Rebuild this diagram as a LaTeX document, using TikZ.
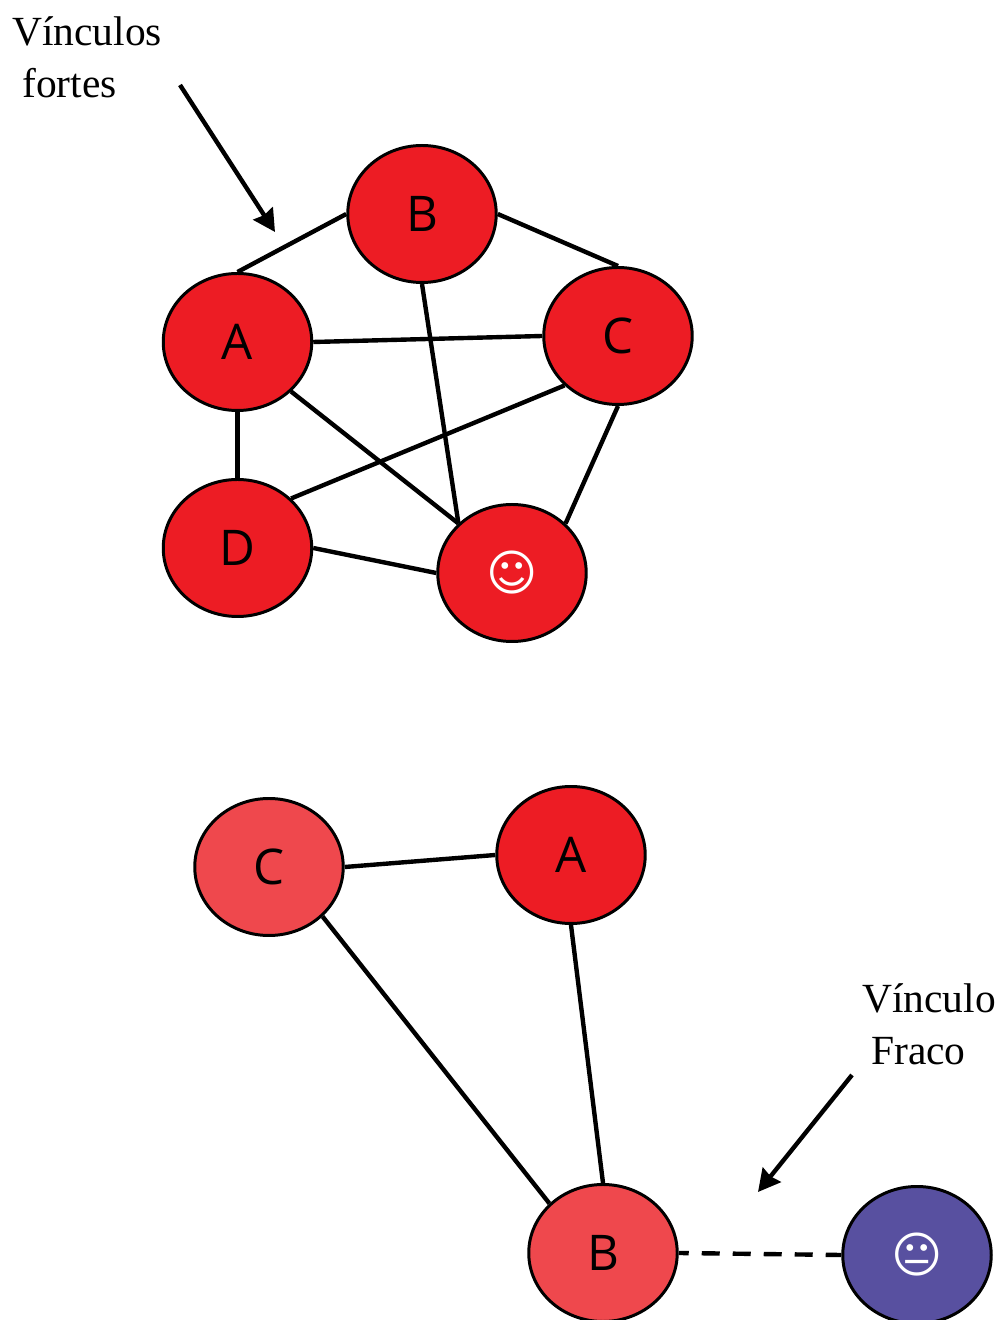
\documentclass[tikz,border=0pt]{standalone}
\usepackage{fontspec}
\setmainfont{Liberation Serif}
\newfontfamily\labelfont{Open Sans}
\newfontfamily\facefont{DejaVu Sans}
\usetikzlibrary{shapes.geometric,arrows.meta}
\definecolor{strongred}{HTML}{ED1C24}
\definecolor{softred}{HTML}{EF484D}
\definecolor{weakblue}{HTML}{5850A0}
\tikzset{
  person/.style={draw, ellipse, line width=1.7pt, fill=strongred, minimum width=2.97cm, minimum height=2.74cm, inner sep=0pt, font=\labelfont\fontsize{28}{30}\selectfont},
  softperson/.style={person, fill=softred},
  weakperson/.style={person, fill=weakblue},
  face/.style={text=white, font=\facefont\fontsize{28}{30}\selectfont},
  tie/.style={line width=2.5pt},
  pointer/.style={-{Stealth[length=0.44cm,width=0.46cm,inset=0.04cm]}, line width=2.5pt},
  caption/.style={font=\fontsize{23.6}{26}\selectfont, inner sep=0pt}
}
\begin{document}
\begin{tikzpicture}
  \useasboundingbox (0,0) rectangle (20,26.4);

  % Strong group
  \node[person] (topB) at (8.44,22.12) {B};
  \node[person] (topA) at (4.75,19.56) {A};
  \node[person] (topC) at (12.36,19.68) {C};
  \node[person] (topD) at (4.75,15.44) {D};
  \node[person, face] (topme) at (10.24,14.94) {☺};

  % Strong ties
  \draw[tie] (topA.north) -- (topB.west);
  \draw[tie] (topB.east) -- (topC.north);
  \draw[tie] (topA.east) -- (topC.west);
  \draw[tie] (topA.south) -- (topD.north);
  \draw[tie] (topB.south) -- (topme.north west);
  \draw[tie] (topA.south east) -- (topme.north west);
  \draw[tie] (topC.south west) -- (topD.north east);
  \draw[tie] (topC.south) -- (topme.north east);
  \draw[tie] (topD.east) -- (topme.west);

  % Lower group
  \node[softperson] (lowC) at (5.38,9.06) {C};
  \node[person] (lowA) at (11.42,9.30) {A};
  \node[softperson] (lowB) at (12.06,1.34) {B};
  \node[weakperson, face] (lowme) at (18.34,1.30) {😐};

  % Lower ties
  \draw[tie] (lowC.east) -- (lowA.west);
  \draw[tie] (lowC.south east) -- (lowB.north west);
  \draw[tie] (lowA.south) -- (lowB.north);
  \draw[tie, dash pattern=on 0.36cm off 0.26cm, dash phase=0.16cm] (lowB.east) -- (lowme.west);

  % Captions
  \node[caption] (strong1) at (1.74,25.78) {Vínculos};
  \node[caption] (strong2) at (1.39,24.74) {fortes};
  \node[caption] (weak1) at (18.58,6.44) {Vínculo};
  \node[caption] (weak2) at (18.37,5.38) {Fraco};

  % Arrows
  \coordinate (strongtail) at (3.60,24.70);
  \coordinate (stronghead) at (5.50,21.76);
  \coordinate (weaktail) at (17.04,4.90);
  \coordinate (weakhead) at (15.16,2.56);
  \draw[pointer] (strongtail) -- (stronghead);
  \draw[pointer] (weaktail) -- (weakhead);

\end{tikzpicture}
\end{document}
